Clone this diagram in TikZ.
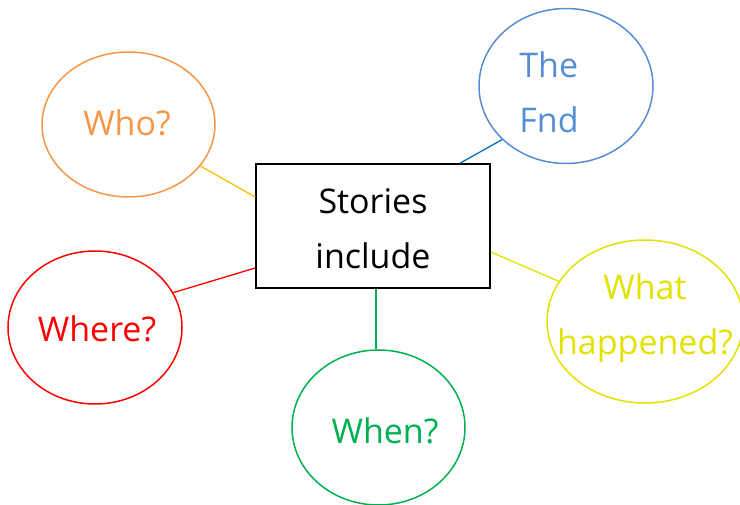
\documentclass[tikz,border=0pt]{standalone}
\usepackage{fontspec}
\setmainfont{Open Sans}
\usetikzlibrary{shapes.geometric}
\definecolor{corange}{HTML}{F79646}
\definecolor{cgold}{HTML}{FFC000}
\definecolor{cblue}{HTML}{558ED5}
\definecolor{cdblue}{HTML}{0070C0}
\definecolor{cred}{HTML}{FF0000}
\definecolor{cgreen}{HTML}{00B050}
\definecolor{cyellow}{HTML}{E2E200}
\tikzset{
  bubble/.style={ellipse, draw, line width=1.5pt, inner sep=0pt},
  txt/.style={font=\fontsize{34}{55}\selectfont, align=center, inner sep=0pt},
  link/.style={line width=1.3pt}
}
\begin{document}
\begin{tikzpicture}[x=1pt,y=-1pt]
\useasboundingbox (0,0) rectangle (740,505);
% central box
\node[draw, line width=1.6pt, minimum width=234pt, minimum height=124pt, inner sep=0pt] (box) at (373,226) {};
\node[txt] (boxt) at (373,229) {Stories\\include};
% ellipses
\node[bubble, corange, minimum width=173pt, minimum height=145pt] (who) at (128.5,124.5) {};
\node[bubble, cblue, minimum width=174pt, minimum height=155pt] (fnd) at (566,86) {};
\node[bubble, cred, minimum width=174pt, minimum height=153pt] (where) at (95,327.5) {};
\node[bubble, cgreen, minimum width=173pt, minimum height=155pt] (when) at (378.5,427.5) {};
\node[bubble, cyellow, minimum width=196pt, minimum height=163pt] (what) at (645,321.5) {};
% texts
\node[txt, corange] (whot) at (127,123) {Who?};
\node[txt, cblue, align=left] (fndt) at (549,92) {The\\Fnd};
\node[txt, cred] (wheret) at (97,329) {Where?};
\node[txt, cgreen] (whent) at (385,431) {When?};
\node[txt, cyellow] (whatt) at (645,318) {What\\happened?};
% connectors
\draw[link, cgold] (who.-30) -- (box.west |- 0,197);
\draw[link, cdblue] (fnd.-140) -- (box.north -| 460,0);
\draw[link, cred] (where.24) -- (box.west |- 0,268);
\draw[link, cgreen] (box.south -| 376,0) -- (when.north -| 376,0);
\draw[link, cyellow] (box.east |- 0,252) -- (what.155);
\end{tikzpicture}
\end{document}
